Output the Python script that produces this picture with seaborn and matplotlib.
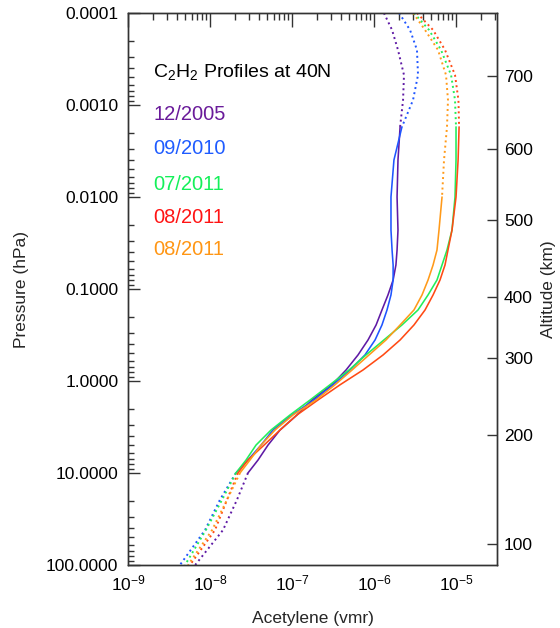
import numpy as np
import pandas as pd
import matplotlib
matplotlib.use("Agg")
import matplotlib.pyplot as plt
from matplotlib.ticker import LogLocator, NullFormatter, NullLocator
import seaborn as sns

# ---------------- data ----------------
pressure_hpa = [1e-4, 1.53e-4, 2.52e-4, 4.72e-4, 8.83e-4, 1.73e-3, 3.96e-3, 1.0e-2,
                2.29e-2, 3.77e-2, 5.48e-2, 7.98e-2, 0.116, 0.169, 0.246, 0.358,
                0.521, 0.759, 1.10, 1.61, 2.34, 3.41, 4.97, 7.23, 10.0, 19.6,
                41.7, 100.0]

vmr_12_2005 = [1.32e-6, 1.66e-6, 1.96e-6, 2.32e-6, 2.26e-6, 2.08e-6, 1.96e-6, 1.91e-6,
               1.96e-6, 1.91e-6, 1.85e-6, 1.71e-6, 1.48e-6, 1.25e-6, 1.06e-6, 8.45e-7,
               6.38e-7, 4.56e-7, 3.07e-7, 1.75e-7, 1.15e-7, 7.14e-8, 5.10e-8, 3.85e-8,
               2.90e-8, 2.13e-8, 1.44e-8, 6.6e-9]
vmr_09_2010 = [2.02e-6, 2.75e-6, 3.34e-6, 3.44e-6, 2.99e-6, 2.19e-6, 1.75e-6, 1.61e-6,
               1.61e-6, 1.66e-6, 1.71e-6, 1.71e-6, 1.61e-6, 1.44e-6, 1.25e-6, 1.03e-6,
               7.76e-7, 5.10e-7, 3.16e-7, 1.85e-7, 1.0e-7, 5.86e-8, 4.19e-8, 2.90e-8,
               2.07e-8, 1.32e-8, 8.7e-9, 4.3e-9]
vmr_07_2011 = [3.07e-6, 4.69e-6, 6.56e-6, 8.7e-6, 9.72e-6, 1.0e-5, 1.0e-5, 9.72e-6,
               8.93e-6, 7.76e-6, 6.75e-6, 5.86e-6, 4.56e-6, 3.44e-6, 2.19e-6, 1.32e-6,
               7.98e-7, 4.96e-7, 2.90e-7, 1.66e-7, 9.46e-8, 5.55e-8, 3.64e-8, 2.75e-8,
               2.07e-8, 1.4e-8, 8.9e-9, 4.96e-9]
vmr_08_2011a = [3.34e-6, 5.25e-6, 7.34e-6, 9.72e-6, 1.07e-5, 1.09e-5, 1.06e-5, 1.0e-5,
                8.93e-6, 7.98e-6, 7.34e-6, 6.38e-6, 5.25e-6, 4.19e-6, 3.07e-6, 2.08e-6,
                1.29e-6, 7.34e-7, 3.85e-7, 2.07e-7, 1.15e-7, 7.14e-8, 4.56e-8, 2.90e-8,
                2.19e-8, 1.61e-8, 1.15e-8, 5.7e-9]
vmr_08_2011b = [2.99e-6, 4.19e-6, 6.03e-6, 7.55e-6, 7.98e-6, 7.76e-6, 7.14e-6, 6.75e-6,
                6.2e-6, 5.86e-6, 5.25e-6, 4.56e-6, 3.85e-6, 3.07e-6, 2.08e-6, 1.40e-6,
                8.69e-7, 5.40e-7, 3.34e-7, 1.96e-7, 1.03e-7, 6.21e-8, 4.19e-8, 3.07e-8,
                2.32e-8, 1.61e-8, 1.06e-8, 5.4e-9]

series_labels = ["12/2005", "09/2010", "07/2011", "08/2011", "08/2011"]
series_values = [vmr_12_2005, vmr_09_2010, vmr_07_2011, vmr_08_2011a, vmr_08_2011b]
# pressure range (hPa) where each profile is drawn solid
solid_top_hpa = [1.73e-3, 1.73e-3, 1.73e-3, 1.73e-3, 1.0e-2]
solid_bottom_hpa = [10.0, 10.0, 10.0, 10.0, 10.0]

line_colors = ["#5f1aa5", "#1f55ff", "#22ee5a", "#ff4a14", "#ff9a1a"]
text_colors = ["#6a1b9a", "#1f5cff", "#14f05a", "#ff1414", "#ff9614"]

title_text = r"C$_2$H$_2$ Profiles at 40N"

x_ticks = [1e-9, 1e-8, 1e-7, 1e-6, 1e-5]
x_tick_labels = [r"10$^{-9}$", r"10$^{-8}$", r"10$^{-7}$", r"10$^{-6}$", r"10$^{-5}$"]
y_ticks = [1e-4, 1e-3, 1e-2, 1e-1, 1, 10, 100]
y_tick_labels = ["0.0001", "0.0010", "0.0100", "0.1000", "1.0000", "10.0000", "100.0000"]
altitude_km = [100, 200, 300, 400, 500, 600, 700]
altitude_pressure_hpa = [58.9, 3.86, 0.562, 0.122, 0.0178, 3.0e-3, 4.84e-4]

# ---------------- style ----------------
sns.set_theme(style="white")
plt.rcParams["font.family"] = ["Liberation Sans", "DejaVu Sans"]
plt.rcParams["mathtext.fontset"] = "custom"
plt.rcParams["mathtext.rm"] = "Liberation Sans"
plt.rcParams["mathtext.it"] = "Liberation Sans:italic"
plt.rcParams["mathtext.bf"] = "Liberation Sans:bold"
plt.rcParams["mathtext.default"] = "rm"

fig = plt.figure(figsize=(5.6, 6.28), dpi=100)
ax = fig.add_axes([128 / 560, 1 - 565 / 628, 369 / 560, 552 / 628])

p = np.array(pressure_hpa)
dotted = (0, (1, 1.7))
for vals, c, ptop, pbot in zip(series_values, line_colors, solid_top_hpa, solid_bottom_hpa):
    v = np.array(vals)
    upper = p <= ptop * 1.0001
    solid = (p >= ptop * 0.9999) & (p <= pbot * 1.0001)
    lower = p >= pbot * 0.9999
    for mask, ls, lw in [(upper, dotted, 1.4), (solid, "-", 1.15), (lower, dotted, 1.4)]:
        df = pd.DataFrame({"vmr": v[mask], "p": p[mask]})
        sns.lineplot(data=df, x="vmr", y="p", ax=ax, sort=False, estimator=None,
                     color=c, linestyle=ls, linewidth=lw, legend=False)

ax.set_xscale("log")
ax.set_yscale("log")
ax.set_xlim(1e-9, 3.16e-5)
ax.set_ylim(100, 1e-4)

ax.set_xticks(x_ticks)
ax.set_xticklabels(x_tick_labels)
ax.set_yticks(y_ticks)
ax.set_yticklabels(y_tick_labels)
ax.xaxis.set_minor_locator(LogLocator(base=10, subs=np.arange(2, 10), numticks=50))
ax.yaxis.set_minor_locator(LogLocator(base=10, subs=np.arange(2, 10), numticks=50))
ax.xaxis.set_minor_formatter(NullFormatter())
ax.yaxis.set_minor_formatter(NullFormatter())

ax.tick_params(axis="both", which="both", direction="in", top=True, right=False,
               colors="#333333", labelcolor="black", labelsize=12.5, width=1.0)
ax.tick_params(axis="x", which="major", length=10, pad=6)
ax.tick_params(axis="x", which="minor", length=5)
ax.tick_params(axis="y", which="major", length=8.5, pad=7)
ax.tick_params(axis="y", which="minor", length=4)

for s in ax.spines.values():
    s.set_color("#333333")
    s.set_linewidth(1.0)

ax.set_xlabel("Acetylene (vmr)", fontsize=12.5, labelpad=13)
ax.set_ylabel("Pressure (hPa)", fontsize=12.5, labelpad=12.5)

ax2 = ax.twinx()
ax2.set_yscale("log")
ax2.set_ylim(100, 1e-4)
ax2.set_yticks(altitude_pressure_hpa)
ax2.set_yticklabels([str(a) for a in altitude_km])
ax2.yaxis.set_minor_locator(NullLocator())
ax2.tick_params(axis="y", which="major", direction="in", length=7, width=1.0,
                colors="#333333", labelcolor="black", labelsize=12.5, pad=5)
for s in ax2.spines.values():
    s.set_color("#333333")
    s.set_linewidth(1.0)
ax2.set_ylabel("Altitude (km)", fontsize=12.5, labelpad=5.5)
ax2.grid(False)
ax.grid(False)

# annotation block
ax.text(0.068, 0.893, title_text, transform=ax.transAxes, fontsize=14,
        ha="left", va="center", color="black")
label_y = [0.817, 0.755, 0.690, 0.630, 0.572]
for lab, col, yy in zip(series_labels, text_colors, label_y):
    ax.text(0.068, yy, lab, transform=ax.transAxes, fontsize=14.5,
            ha="left", va="center", color=col)

fig.savefig("out.png", dpi=100)
